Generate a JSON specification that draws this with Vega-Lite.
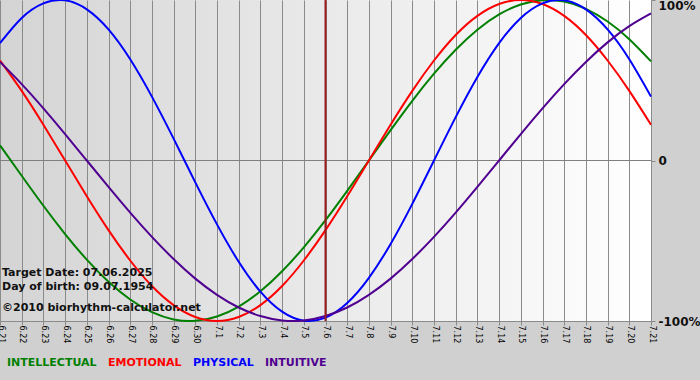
{
  "$schema": "https://vega.github.io/schema/vega-lite/v6.json",
  "width": 651,
  "height": 321,
  "autosize": "none",
  "padding": {"left": 0, "top": 0, "right": 49, "bottom": 59},
  "background": "#d0d0d0",
  "config": {
    "view": {
      "stroke": null,
      "fill": {"gradient": "linear", "x1": 0, "y1": 0, "x2": 1, "y2": 0, "stops": [{"offset": 0, "color": "#d4d4d4"}, {"offset": 1, "color": "#ffffff"}]}
    },
    "font": "DejaVu Sans"
  },
  "datasets": {
    "bio": [
      {"d": "2025-06-21", "s": "INTELLECTUAL", "v": 9.5}, {"d": "2025-06-22", "s": "INTELLECTUAL", "v": -9.5}, {"d": "2025-06-23", "s": "INTELLECTUAL", "v": -28.2}, {"d": "2025-06-24", "s": "INTELLECTUAL", "v": -45.8}, {"d": "2025-06-25", "s": "INTELLECTUAL", "v": -61.8}, {"d": "2025-06-26", "s": "INTELLECTUAL", "v": -75.6}, {"d": "2025-06-27", "s": "INTELLECTUAL", "v": -86.6}, {"d": "2025-06-28", "s": "INTELLECTUAL", "v": -94.5}, {"d": "2025-06-29", "s": "INTELLECTUAL", "v": -99.0}, {"d": "2025-06-30", "s": "INTELLECTUAL", "v": -99.9}, {"d": "2025-07-01", "s": "INTELLECTUAL", "v": -97.2}, {"d": "2025-07-02", "s": "INTELLECTUAL", "v": -91.0}, {"d": "2025-07-03", "s": "INTELLECTUAL", "v": -81.5}, {"d": "2025-07-04", "s": "INTELLECTUAL", "v": -69.0}, {"d": "2025-07-05", "s": "INTELLECTUAL", "v": -54.1}, {"d": "2025-07-06", "s": "INTELLECTUAL", "v": -37.2}, {"d": "2025-07-07", "s": "INTELLECTUAL", "v": -18.9}, {"d": "2025-07-08", "s": "INTELLECTUAL", "v": 0}, {"d": "2025-07-09", "s": "INTELLECTUAL", "v": 18.9}, {"d": "2025-07-10", "s": "INTELLECTUAL", "v": 37.2}, {"d": "2025-07-11", "s": "INTELLECTUAL", "v": 54.1}, {"d": "2025-07-12", "s": "INTELLECTUAL", "v": 69.0}, {"d": "2025-07-13", "s": "INTELLECTUAL", "v": 81.5}, {"d": "2025-07-14", "s": "INTELLECTUAL", "v": 91.0}, {"d": "2025-07-15", "s": "INTELLECTUAL", "v": 97.2}, {"d": "2025-07-16", "s": "INTELLECTUAL", "v": 99.9}, {"d": "2025-07-17", "s": "INTELLECTUAL", "v": 99.0}, {"d": "2025-07-18", "s": "INTELLECTUAL", "v": 94.5}, {"d": "2025-07-19", "s": "INTELLECTUAL", "v": 86.6}, {"d": "2025-07-20", "s": "INTELLECTUAL", "v": 75.6}, {"d": "2025-07-21", "s": "INTELLECTUAL", "v": 61.8},
      {"d": "2025-06-21", "s": "EMOTIONAL", "v": 62.3}, {"d": "2025-06-22", "s": "EMOTIONAL", "v": 43.4}, {"d": "2025-06-23", "s": "EMOTIONAL", "v": 22.3}, {"d": "2025-06-24", "s": "EMOTIONAL", "v": 0}, {"d": "2025-06-25", "s": "EMOTIONAL", "v": -22.3}, {"d": "2025-06-26", "s": "EMOTIONAL", "v": -43.4}, {"d": "2025-06-27", "s": "EMOTIONAL", "v": -62.3}, {"d": "2025-06-28", "s": "EMOTIONAL", "v": -78.2}, {"d": "2025-06-29", "s": "EMOTIONAL", "v": -90.1}, {"d": "2025-06-30", "s": "EMOTIONAL", "v": -97.5}, {"d": "2025-07-01", "s": "EMOTIONAL", "v": -100}, {"d": "2025-07-02", "s": "EMOTIONAL", "v": -97.5}, {"d": "2025-07-03", "s": "EMOTIONAL", "v": -90.1}, {"d": "2025-07-04", "s": "EMOTIONAL", "v": -78.2}, {"d": "2025-07-05", "s": "EMOTIONAL", "v": -62.3}, {"d": "2025-07-06", "s": "EMOTIONAL", "v": -43.4}, {"d": "2025-07-07", "s": "EMOTIONAL", "v": -22.3}, {"d": "2025-07-08", "s": "EMOTIONAL", "v": 0}, {"d": "2025-07-09", "s": "EMOTIONAL", "v": 22.3}, {"d": "2025-07-10", "s": "EMOTIONAL", "v": 43.4}, {"d": "2025-07-11", "s": "EMOTIONAL", "v": 62.3}, {"d": "2025-07-12", "s": "EMOTIONAL", "v": 78.2}, {"d": "2025-07-13", "s": "EMOTIONAL", "v": 90.1}, {"d": "2025-07-14", "s": "EMOTIONAL", "v": 97.5}, {"d": "2025-07-15", "s": "EMOTIONAL", "v": 100}, {"d": "2025-07-16", "s": "EMOTIONAL", "v": 97.5}, {"d": "2025-07-17", "s": "EMOTIONAL", "v": 90.1}, {"d": "2025-07-18", "s": "EMOTIONAL", "v": 78.2}, {"d": "2025-07-19", "s": "EMOTIONAL", "v": 62.3}, {"d": "2025-07-20", "s": "EMOTIONAL", "v": 43.4}, {"d": "2025-07-21", "s": "EMOTIONAL", "v": 22.3},
      {"d": "2025-06-21", "s": "PHYSICAL", "v": 73.1}, {"d": "2025-06-22", "s": "PHYSICAL", "v": 88.8}, {"d": "2025-06-23", "s": "PHYSICAL", "v": 97.9}, {"d": "2025-06-24", "s": "PHYSICAL", "v": 99.8}, {"d": "2025-06-25", "s": "PHYSICAL", "v": 94.2}, {"d": "2025-06-26", "s": "PHYSICAL", "v": 81.7}, {"d": "2025-06-27", "s": "PHYSICAL", "v": 63.1}, {"d": "2025-06-28", "s": "PHYSICAL", "v": 39.8}, {"d": "2025-06-29", "s": "PHYSICAL", "v": 13.6}, {"d": "2025-06-30", "s": "PHYSICAL", "v": -13.6}, {"d": "2025-07-01", "s": "PHYSICAL", "v": -39.8}, {"d": "2025-07-02", "s": "PHYSICAL", "v": -63.1}, {"d": "2025-07-03", "s": "PHYSICAL", "v": -81.7}, {"d": "2025-07-04", "s": "PHYSICAL", "v": -94.2}, {"d": "2025-07-05", "s": "PHYSICAL", "v": -99.8}, {"d": "2025-07-06", "s": "PHYSICAL", "v": -97.9}, {"d": "2025-07-07", "s": "PHYSICAL", "v": -88.8}, {"d": "2025-07-08", "s": "PHYSICAL", "v": -73.1}, {"d": "2025-07-09", "s": "PHYSICAL", "v": -52.0}, {"d": "2025-07-10", "s": "PHYSICAL", "v": -27.0}, {"d": "2025-07-11", "s": "PHYSICAL", "v": 0}, {"d": "2025-07-12", "s": "PHYSICAL", "v": 27.0}, {"d": "2025-07-13", "s": "PHYSICAL", "v": 52.0}, {"d": "2025-07-14", "s": "PHYSICAL", "v": 73.1}, {"d": "2025-07-15", "s": "PHYSICAL", "v": 88.8}, {"d": "2025-07-16", "s": "PHYSICAL", "v": 97.9}, {"d": "2025-07-17", "s": "PHYSICAL", "v": 99.8}, {"d": "2025-07-18", "s": "PHYSICAL", "v": 94.2}, {"d": "2025-07-19", "s": "PHYSICAL", "v": 81.7}, {"d": "2025-07-20", "s": "PHYSICAL", "v": 63.1}, {"d": "2025-07-21", "s": "PHYSICAL", "v": 39.8},
      {"d": "2025-06-21", "s": "INTUITIVE", "v": 61.4}, {"d": "2025-06-22", "s": "INTUITIVE", "v": 47.6}, {"d": "2025-06-23", "s": "INTUITIVE", "v": 32.5}, {"d": "2025-06-24", "s": "INTUITIVE", "v": 16.5}, {"d": "2025-06-25", "s": "INTUITIVE", "v": 0}, {"d": "2025-06-26", "s": "INTUITIVE", "v": -16.5}, {"d": "2025-06-27", "s": "INTUITIVE", "v": -32.5}, {"d": "2025-06-28", "s": "INTUITIVE", "v": -47.6}, {"d": "2025-06-29", "s": "INTUITIVE", "v": -61.4}, {"d": "2025-06-30", "s": "INTUITIVE", "v": -73.6}, {"d": "2025-07-01", "s": "INTUITIVE", "v": -83.7}, {"d": "2025-07-02", "s": "INTUITIVE", "v": -91.6}, {"d": "2025-07-03", "s": "INTUITIVE", "v": -96.9}, {"d": "2025-07-04", "s": "INTUITIVE", "v": -99.7}, {"d": "2025-07-05", "s": "INTUITIVE", "v": -99.7}, {"d": "2025-07-06", "s": "INTUITIVE", "v": -96.9}, {"d": "2025-07-07", "s": "INTUITIVE", "v": -91.6}, {"d": "2025-07-08", "s": "INTUITIVE", "v": -83.7}, {"d": "2025-07-09", "s": "INTUITIVE", "v": -73.6}, {"d": "2025-07-10", "s": "INTUITIVE", "v": -61.4}, {"d": "2025-07-11", "s": "INTUITIVE", "v": -47.6}, {"d": "2025-07-12", "s": "INTUITIVE", "v": -32.5}, {"d": "2025-07-13", "s": "INTUITIVE", "v": -16.5}, {"d": "2025-07-14", "s": "INTUITIVE", "v": 0}, {"d": "2025-07-15", "s": "INTUITIVE", "v": 16.5}, {"d": "2025-07-16", "s": "INTUITIVE", "v": 32.5}, {"d": "2025-07-17", "s": "INTUITIVE", "v": 47.6}, {"d": "2025-07-18", "s": "INTUITIVE", "v": 61.4}, {"d": "2025-07-19", "s": "INTUITIVE", "v": 73.6}, {"d": "2025-07-20", "s": "INTUITIVE", "v": 83.7}, {"d": "2025-07-21", "s": "INTUITIVE", "v": 91.6}
    ],
    "target": [{"d": "2025-07-06"}],
    "notes": [
      {"d": "2025-06-21", "v": -71.7, "t": "Target Date: 07.06.2025"},
      {"d": "2025-06-21", "v": -80.7, "t": "Day of birth: 09.07.1954"},
      {"d": "2025-06-21", "v": -93.8, "t": "©2010 biorhythm-calculator.net"}
    ],
    "zero": [{"v": 0}]
  },
  "layer": [
    {
      "data": {"name": "zero"},
      "mark": {"type": "rule", "color": "#808080", "strokeWidth": 1},
      "encoding": {"y": {"field": "v", "type": "quantitative"}}
    },
    {
      "data": {"name": "bio"},
      "mark": {"type": "line", "interpolate": "natural", "strokeWidth": 2},
      "encoding": {
        "x": {
          "field": "d", "type": "temporal", "timeUnit": "utcyearmonthdate",
          "scale": {"type": "utc", "nice": false},
          "axis": {
            "title": null, "format": "%-m.%-d", "labelAngle": 90,
            "labelFont": "DejaVu Sans", "labelFontSize": 8, "labelColor": "#000000",
            "labelFlush": false, "labelOverlap": false, "labelBound": false,
            "tickCount": {"interval": "day", "step": 1},
            "grid": true, "gridColor": "#8a8a8a", "gridOpacity": 1, "gridWidth": 1,
            "ticks": true, "tickColor": "#8a8a8a", "tickSize": 4,
            "domain": true, "domainColor": "#8a8a8a", "labelPadding": 0
          }
        },
        "y": {
          "field": "v", "type": "quantitative",
          "scale": {"domain": [-100, 100], "nice": false, "zero": false},
          "axis": {
            "orient": "right", "title": null, "values": [-100, 0, 100],
            "labelExpr": "datum.value == 0 ? '0' : datum.value + '%'",
            "labelFont": "DejaVu Sans", "labelFontWeight": "bold", "labelFontSize": 12,
            "labelColor": "#111111", "labelAlign": "left",
            "labelBaseline": {"condition": {"test": "datum.value == 100", "value": "top"}, "value": "middle"},
            "grid": false, "domain": false, "ticks": true, "tickSize": 4, "tickColor": "#8a8a8a",
            "labelPadding": 3, "labelFlush": false
          }
        },
        "color": {
          "field": "s", "type": "nominal",
          "scale": {"domain": ["INTELLECTUAL", "EMOTIONAL", "PHYSICAL", "INTUITIVE"], "range": ["#008000", "#ff0000", "#0000ff", "#500090"]},
          "legend": {
            "title": null, "orient": "none", "legendX": -4, "legendY": 357, "direction": "horizontal",
            "symbolSize": 0, "symbolOpacity": 0, "symbolStrokeWidth": 0, "labelOffset": 0,
            "columnPadding": -1, "padding": 0,
            "labelFont": "DejaVu Sans", "labelFontWeight": "bold", "labelFontSize": 11,
            "encode": {"labels": {"update": {"fill": {"scale": "color", "field": "value"}}}}
          }
        }
      }
    },
    {
      "data": {"name": "target"},
      "mark": {"type": "rule", "color": "#9a1c1c", "strokeWidth": 2},
      "encoding": {"x": {"field": "d", "type": "temporal", "timeUnit": "utcyearmonthdate"}}
    },
    {
      "data": {"name": "notes"},
      "mark": {"type": "text", "align": "left", "baseline": "alphabetic", "dx": 2, "font": "DejaVu Sans", "fontWeight": "bold", "fontSize": 11, "color": "#111111"},
      "encoding": {
        "x": {"field": "d", "type": "temporal", "timeUnit": "utcyearmonthdate"},
        "y": {"field": "v", "type": "quantitative"},
        "text": {"field": "t"}
      }
    }
  ]
}
